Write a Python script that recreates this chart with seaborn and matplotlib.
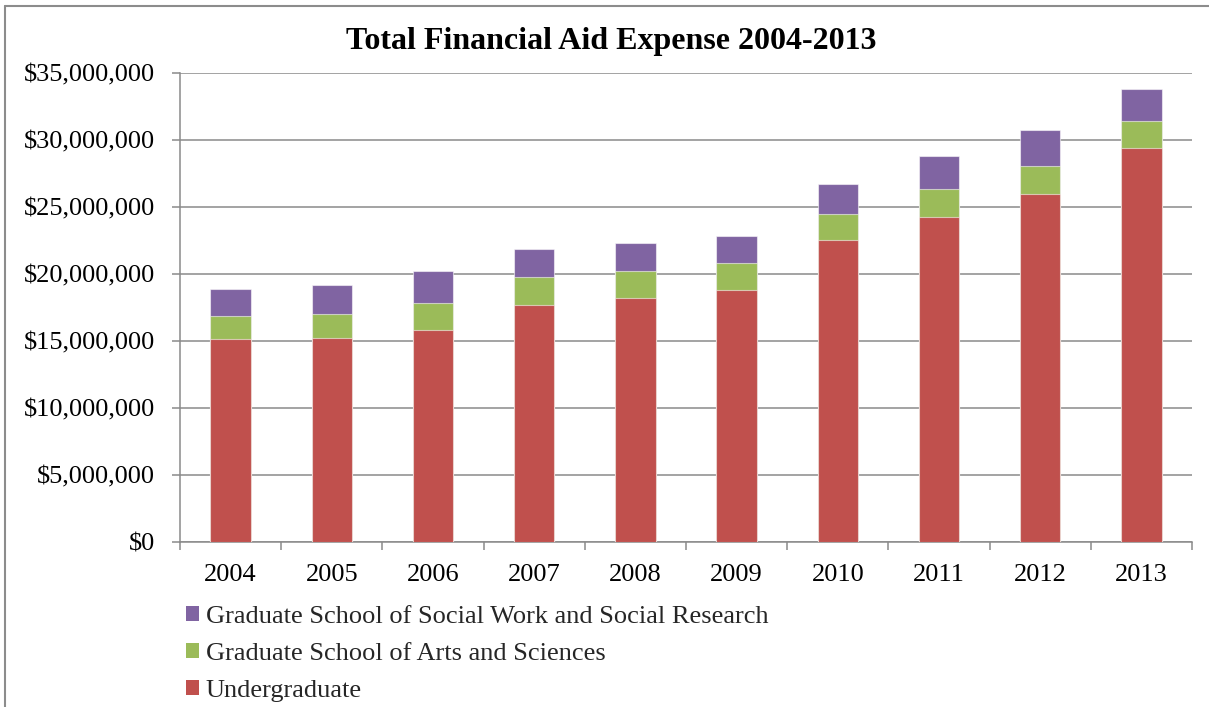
import numpy as np
import pandas as pd
import matplotlib
matplotlib.use("Agg")
import matplotlib.pyplot as plt
import matplotlib.ticker as mticker
from matplotlib.patches import Patch
from matplotlib.lines import Line2D
import seaborn as sns

# Financial aid expense by school, 2004-2013 (USD)
years = ["2004", "2005", "2006", "2007", "2008", "2009", "2010", "2011", "2012", "2013"]
undergraduate = [15.15e6, 15.25e6, 15.85e6, 17.69e6, 18.21e6, 18.83e6, 22.54e6, 24.28e6, 25.99e6, 29.43e6]
grad_arts_sciences = [1.72e6, 1.76e6, 2.01e6, 2.06e6, 2.01e6, 2.02e6, 1.91e6, 2.06e6, 2.09e6, 1.99e6]
grad_social_work = [1.99e6, 2.17e6, 2.36e6, 2.10e6, 2.13e6, 2.01e6, 2.24e6, 2.47e6, 2.64e6, 2.36e6]

series_names = [
    "Undergraduate",
    "Graduate School of Arts and Sciences",
    "Graduate School of Social Work and Social Research",
]
series_colors = ["#C0504D", "#9BBB59", "#8064A2"]

sns.set_theme(style="white")
plt.rcParams["font.family"] = ["Liberation Serif", "DejaVu Serif"]

df = pd.DataFrame({
    "year": years,
    series_names[0]: undergraduate,
    series_names[1]: grad_arts_sciences,
    series_names[2]: grad_social_work,
})
# cumulative tops for the stacked layers
stack = df[series_names].cumsum(axis=1)

fig = plt.figure(figsize=(12.09, 7.07), dpi=100)
ax = fig.add_axes([180 / 1209, 1 - 542 / 707, (1192 - 180) / 1209, (542 - 73) / 707])

grid_gray = "#8a8a8a"
edge = (1, 1, 1, 0.55)
# draw the tallest layer first so lower segments sit on top
for name, color in reversed(list(zip(series_names, series_colors))):
    sns.barplot(x=df["year"], y=stack[name], order=years, color=color,
                saturation=1, width=0.4, errorbar=None, ax=ax,
                edgecolor=edge, linewidth=0.8, zorder=3)

ax.set_ylim(0, 35e6)
ax.set_xlim(-0.5, len(years) - 0.5)
ax.yaxis.set_major_locator(mticker.MultipleLocator(5e6))
ax.yaxis.set_major_formatter(mticker.FuncFormatter(lambda v, p: f"${v:,.0f}"))
ax.set_xlabel("")
ax.set_ylabel("")

ax.set_axisbelow(True)
ax.yaxis.grid(True, color=grid_gray, linewidth=1.1)
ax.xaxis.grid(False)
for side in ("top", "right"):
    ax.spines[side].set_visible(False)
for side in ("left", "bottom"):
    ax.spines[side].set_color(grid_gray)
    ax.spines[side].set_linewidth(1.1)

# category separators as tick marks on the x axis
ax.set_xticks(np.arange(-0.5, len(years)), minor=True)
ax.tick_params(axis="x", which="minor", length=6, width=1.1, color=grid_gray, direction="out", bottom=True)
ax.tick_params(axis="x", which="major", length=0, pad=16, labelsize=19, labelcolor="black")
ax.tick_params(axis="y", which="major", length=6, width=1.1, color=grid_gray, direction="out",
               left=True, pad=12, labelsize=19, labelcolor="black")

fig.text(611 / 1209, 1 - 42 / 707, "Total Financial Aid Expense 2004-2013",
         ha="center", va="center", fontsize=23, fontweight="bold", color="black")

handles = [Patch(facecolor=c, edgecolor="none") for c in reversed(series_colors)]
labels = list(reversed(series_names))
fig.legend(handles, labels, loc="upper left", bbox_to_anchor=(186 / 1209, 1 - 606 / 707),
           frameon=False, fontsize=19, handlelength=0.5, handleheight=0.5,
           handletextpad=0.25, labelspacing=0.56, borderpad=0, borderaxespad=0)

# outer chart border (left and top edges)
border_gray = "#8c8c8c"
fig.add_artist(Line2D([5 / 1209, 5 / 1209], [0, 1 - 6 / 707], transform=fig.transFigure,
                      color=border_gray, linewidth=1.5))
fig.add_artist(Line2D([5 / 1209, 1], [1 - 6 / 707, 1 - 6 / 707], transform=fig.transFigure,
                      color=border_gray, linewidth=1.5))

fig.savefig("out.png", dpi=100)
